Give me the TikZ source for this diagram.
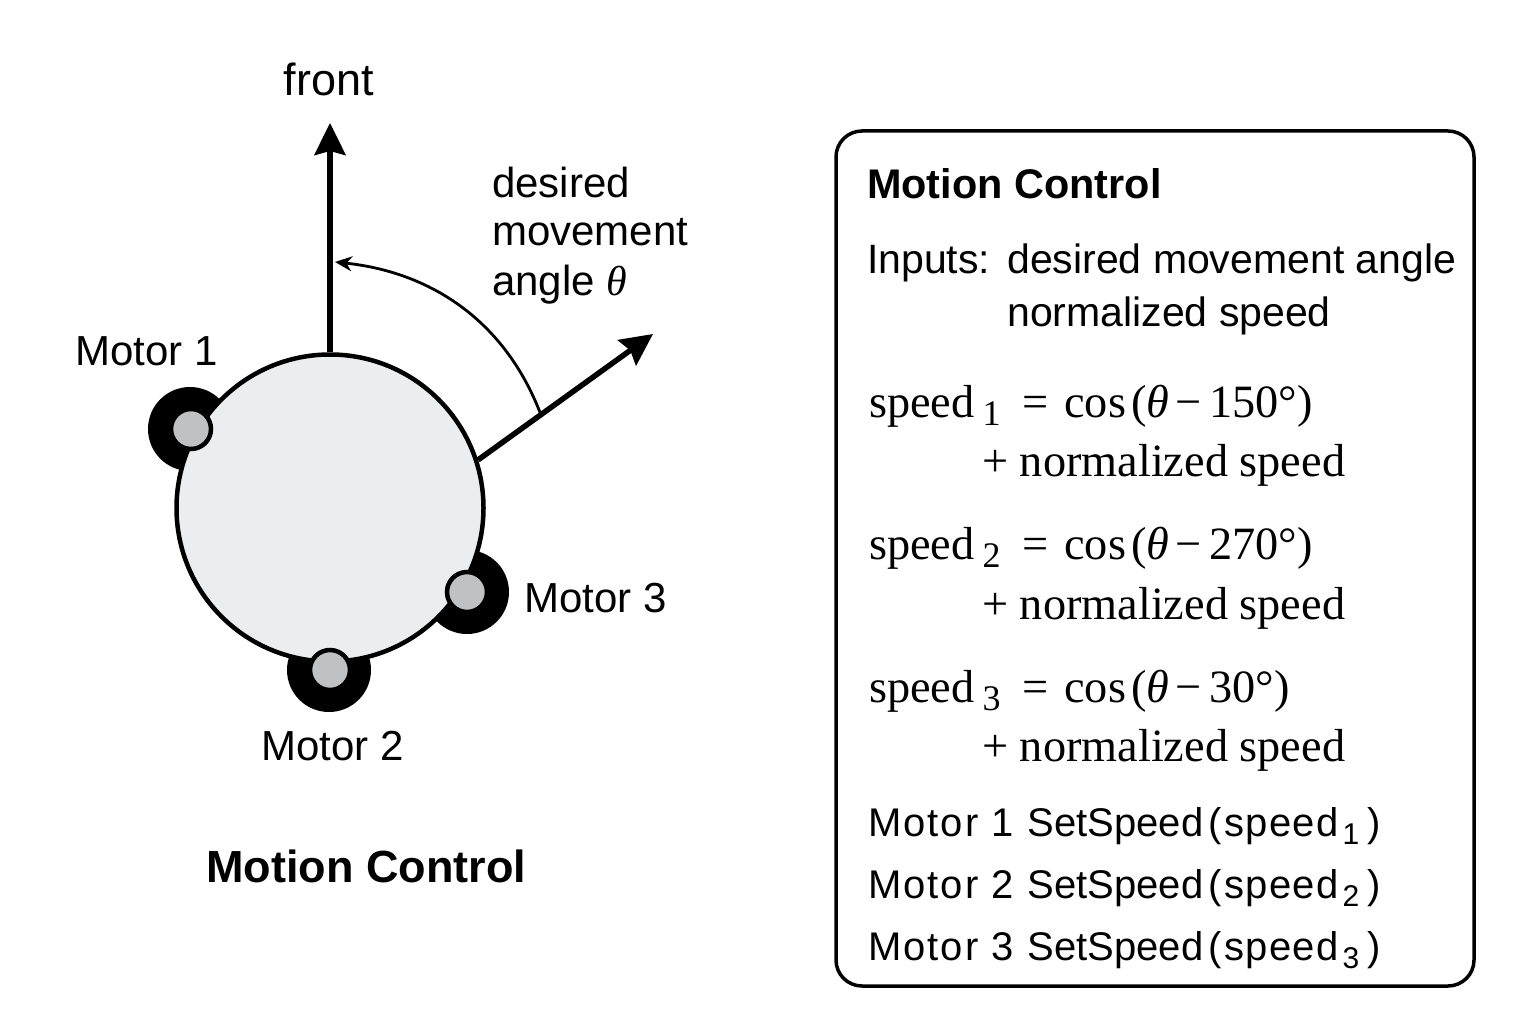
\documentclass[tikz,border=0pt]{standalone}
\usepackage{fontspec}
\setmainfont{Liberation Sans}
\newfontfamily\eqfont{Liberation Serif}
\newfontfamily\codefont{Liberation Sans}
\usetikzlibrary{arrows.meta}
\definecolor{bodygray}{HTML}{ECEDEE}
\definecolor{hubgray}{HTML}{BFC1C2}
\tikzset{
    label/.style={anchor=base west,inner sep=0pt,font=\fontsize{42}{48}\selectfont},
    boxlabel/.style={anchor=base west,inner sep=0pt,font=\fontsize{41}{48}\selectfont},
    title/.style={anchor=base west,inner sep=0pt,font=\fontsize{41.4}{50}\selectfont\bfseries},
    eq/.style={anchor=base west,inner sep=0pt,font=\fontsize{46.3}{52}\selectfont\eqfont},
    code/.style={anchor=base west,inner sep=0pt,font=\fontsize{40}{46}\selectfont\codefont},
    wheel/.style={circle,fill=black,minimum size=84pt,inner sep=0pt},
    hub/.style={circle,draw=black,line width=4.5pt,fill=hubgray,minimum size=40pt,inner sep=0pt},
    arrow/.style={line width=5.5pt,-{Stealth[length=32pt,width=31pt,inset=4pt]}}
}
\begin{document}
\begin{tikzpicture}[x=1pt,y=-1pt]
    \useasboundingbox (0,0) rectangle (1536,1024);
    % motors sit behind the body
    \node[wheel] (W1) at (190,429) {};
    \node[wheel] (W2) at (329,670) {};
    \node[wheel] (W3) at (467,592) {};
    \node[circle,draw=black,line width=4.5pt,fill=bodygray,minimum size=307pt,inner sep=0pt] (body) at (330,508) {};
    \node[hub] (H1) at (191,429) {};
    \node[hub] (H2) at (330,670) {};
    \node[hub] (H3) at (467,592) {};

    \coordinate (F) at (330,123);
    \coordinate (D) at (653,334);
    \coordinate (S) at (541,415);
    \coordinate (E) at (335,262);
    \draw[arrow] (body.north) -- (F);
    \draw[arrow] (body.18) -- (D);
    \draw[line width=2.8pt,-{Stealth[length=17pt,width=15pt]}] (S) .. controls (505,320) and (430,272) .. (E);

    \node[label,anchor=base,font=\fontsize{45}{52}\selectfont] (front) at (329,96) {front};
    \node[label] (d1) at (492,198) {desired};
    \node[label] (d2) at (492,246) {movement};
    \node[label] (d3) at (492,295) {angle \eqfont\itshape θ};
    \node[label] (M1) at (75,365) {Motor 1};
    \node[label] (M2) at (261,760) {Motor 2};
    \node[label] (M3) at (524,612) {Motor 3};
    \node[title,font=\fontsize{45}{52}\selectfont\bfseries] (T1) at (206,882) {Motion Control};

    \draw[line width=3.5pt,rounded corners=26pt] (836,131) rectangle (1474,986);
    \node[title] (T2) at (867,199) {Motion Control};
    \node[boxlabel] (in) at (867,274) {Inputs:};
    \node[boxlabel] (in1) at (1007,274) {desired movement angle};
    \node[boxlabel] (in2) at (1007,326) {normalized speed};

    \node[eq] (s1) at (869,417) {speed\hspace{8pt}\raisebox{-8pt}{\fontsize{36}{40}\selectfont 1}};
    \node[eq] (c1) at (1022,417) {=\hspace{16pt}cos\hspace{5pt}(\textit{θ}\hspace{6pt}−\hspace{8pt}150°)};
    \node[eq] (n1) at (982,476) {+ normalized speed};
    \node[eq] (s2) at (869,559) {speed\hspace{8pt}\raisebox{-8pt}{\fontsize{36}{40}\selectfont 2}};
    \node[eq] (c2) at (1022,559) {=\hspace{16pt}cos\hspace{5pt}(\textit{θ}\hspace{6pt}−\hspace{8pt}270°)};
    \node[eq] (n2) at (982,619) {+ normalized speed};
    \node[eq] (s3) at (869,702) {speed\hspace{8pt}\raisebox{-8pt}{\fontsize{36}{40}\selectfont 3}};
    \node[eq] (c3) at (1022,702) {=\hspace{16pt}cos\hspace{5pt}(\textit{θ}\hspace{6pt}−\hspace{8pt}30°)};
    \node[eq] (n3) at (982,761) {+ normalized speed};

    \node[code] (m1) at (868,836) {{\addfontfeature{LetterSpace=5}Motor 1}\hspace{14pt}SetSpeed\hspace{5pt}(\hspace{3pt}{\addfontfeature{LetterSpace=3}speed}\hspace{4pt}\raisebox{-8pt}{\fontsize{30}{34}\selectfont 1}\hspace{8pt})};
    \node[code] (m2) at (868,898) {{\addfontfeature{LetterSpace=5}Motor 2}\hspace{14pt}SetSpeed\hspace{5pt}(\hspace{3pt}{\addfontfeature{LetterSpace=3}speed}\hspace{4pt}\raisebox{-8pt}{\fontsize{30}{34}\selectfont 2}\hspace{8pt})};
    \node[code] (m3) at (868,960) {{\addfontfeature{LetterSpace=5}Motor 3}\hspace{14pt}SetSpeed\hspace{5pt}(\hspace{3pt}{\addfontfeature{LetterSpace=3}speed}\hspace{4pt}\raisebox{-8pt}{\fontsize{30}{34}\selectfont 3}\hspace{8pt})};
\end{tikzpicture}
\end{document}
